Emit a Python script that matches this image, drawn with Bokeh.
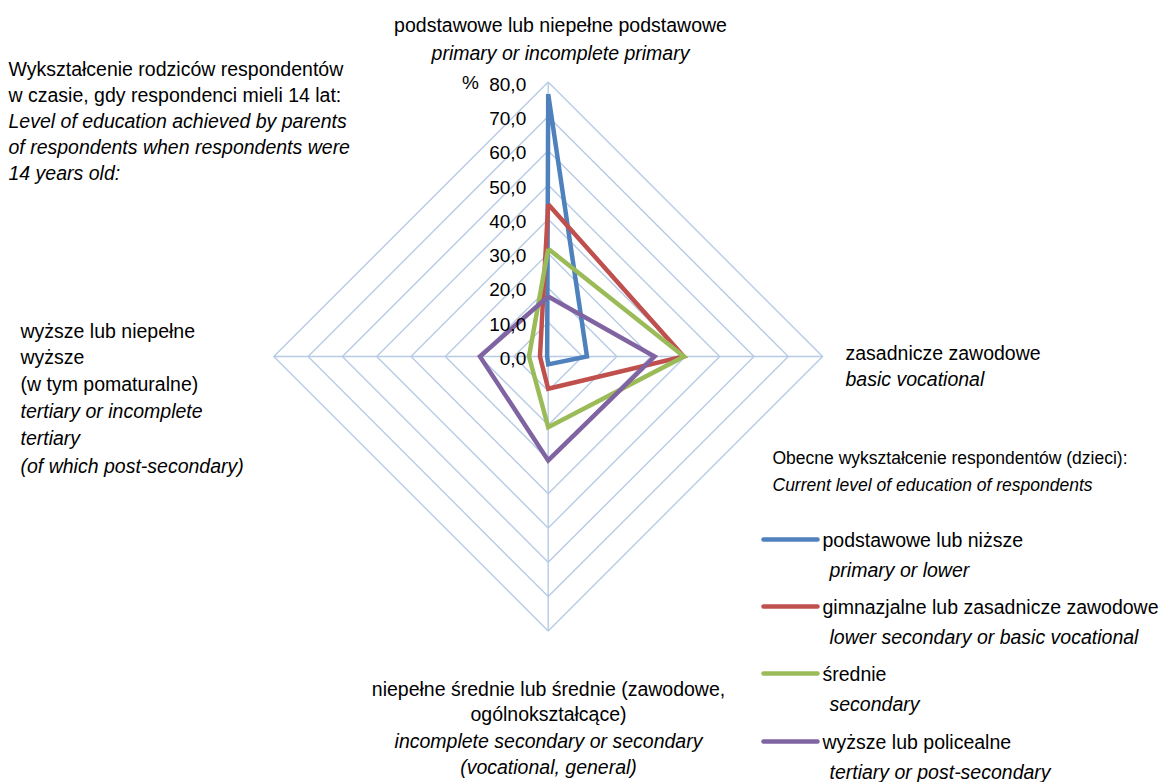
from bokeh.plotting import figure
from bokeh.models import Range1d
from bokeh.core.properties import value
from bokeh.embed import file_html
from bokeh.resources import INLINE

# ---------------- data ----------------
axis_labels_pl = ["podstawowe lub niepełne podstawowe", "zasadnicze zawodowe",
                  "niepełne średnie lub średnie (zawodowe, ogólnokształcące)",
                  "wyższe lub niepełne wyższe (w tym pomaturalne)"]
series_names_pl = ["podstawowe lub niższe", "gimnazjalne lub zasadnicze zawodowe",
                   "średnie", "wyższe lub policealne"]
series_names_en = ["primary or lower", "lower secondary or basic vocational",
                   "secondary", "tertiary or post-secondary"]
# values: [top (primary), right (basic vocational), bottom (secondary), left (tertiary)]
primary_or_lower = [76.5, 11.3, 2.3, 0.3]
lower_secondary_or_basic_voc = [44.4, 39.5, 9.4, 2.4]
secondary = [31.4, 39.6, 20.6, 5.6]
tertiary = [17.5, 31.0, 30.3, 19.9]
tick_values = [0, 10, 20, 30, 40, 50, 60, 70, 80]
tick_labels = ["0,0", "10,0", "20,0", "30,0", "40,0", "50,0", "60,0", "70,0", "80,0"]

colors = ["#4F81BD", "#C0504D", "#9BBB59", "#8064A2"]
all_series = [primary_or_lower, lower_secondary_or_basic_voc, secondary, tertiary]

FONT = "Liberation Sans"
W, H = 1163, 782
S = 3.43                 # px per percent
CX, CY = 547.7, 356.0    # centre in canvas px

p = figure(width=W, height=H, output_backend="svg", toolbar_location=None,
           x_axis_type=None, y_axis_type=None, min_border=0,
           x_range=Range1d(-CX / S, (W - CX) / S),
           y_range=Range1d(-(H - CY) / S, CY / S))
p.outline_line_color = None
p.grid.visible = False
p.background_fill_color = "white"

def pg(px, py):
    """picture pixel -> data coords"""
    return ((px - CX) / S, (CY - py) / S)

# directions: top, right, bottom, left
dirs = [(0, 1), (1, 0), (0, -1), (-1, 0)]

# grid rings
grid_col = "#B7CBE5"
for r in tick_values[1:]:
    xs = [d[0] * r for d in dirs] + [dirs[0][0] * r]
    ys = [d[1] * r for d in dirs] + [dirs[0][1] * r]
    p.line(xs, ys, line_color=grid_col, line_width=1.4)
for d in dirs:
    p.line([0, d[0] * tick_values[-1]], [0, d[1] * tick_values[-1]],
           line_color=grid_col, line_width=1.4)

# series
for vals, col in zip(all_series, colors):
    xs = [d[0] * v for d, v in zip(dirs, vals)] + [dirs[0][0] * vals[0]]
    ys = [d[1] * v for d, v in zip(dirs, vals)] + [dirs[0][1] * vals[0]]
    p.line(xs, ys, line_color=col, line_width=4.5, line_join="miter")

# tick labels
p.text(x=[0] * len(tick_values), y=tick_values, text=tick_labels,
       text_font=value(FONT), text_font_size="19px", text_align="right",
       text_baseline="middle", x_offset=-22, y_offset=2, text_color="#000000")
x, y = pg(470, 82)
p.text(x=[x], y=[y], text=["%"], text_font=value(FONT), text_font_size="19px",
       text_align="center", text_baseline="middle", text_color="#000000")

def lines(items, px, align="left", size="19.5px"):
    for txt, py, ital in items:
        x, y = pg(px, py)
        p.text(x=[x], y=[y], text=[txt], text_font=value(FONT), text_font_size=size,
               text_font_style="italic" if ital else "normal",
               text_align=align, text_baseline="middle", text_color="#000000")

# top axis label
lines([("podstawowe lub niepełne podstawowe", 24, False),
       ("primary or incomplete primary", 52, True)], 560, "center")
# title top-left
lines([("Wykształcenie rodziców respondentów", 68, False),
       ("w czasie, gdy respondenci mieli 14 lat:", 94, False),
       ("Level of education achieved by parents", 120, True),
       ("of respondents when respondents were", 146, True),
       ("14 years old:", 172, True)], 8)
# left axis label
lines([("wyższe lub niepełne", 330, False),
       ("wyższe", 356, False),
       ("(w tym pomaturalne)", 383, False),
       ("tertiary or incomplete", 410, True),
       ("tertiary", 437, True),
       ("(of which post-secondary)", 465, True)], 20)
# right axis label
lines([("zasadnicze zawodowe", 352, False),
       ("basic vocational", 378, True)], 845)
# bottom axis label
lines([("niepełne średnie lub średnie (zawodowe,", 688, False),
       ("ogólnokształcące)", 713, False),
       ("incomplete secondary or secondary", 740, True),
       ("(vocational, general)", 766, True)], 548, "center")
# legend title
lines([("Obecne wykształcenie respondentów (dzieci):", 457, False),
       ("Current level of education of respondents", 484, True)], 772, size="17.5px")

# legend entries
leg_y = [539, 606, 673, 741]
for name_pl, name_en, col, ly in zip(series_names_pl, series_names_en, colors, leg_y):
    x0, y0 = pg(763, ly)
    x1, _ = pg(817, ly)
    p.line([x0, x1], [y0, y0], line_color=col, line_width=4.5, line_cap="round")
    lines([(name_pl, ly, False)], 822)
    lines([(name_en, ly + 30, True)], 829)

open("out.html", "w").write(file_html(p, INLINE))
